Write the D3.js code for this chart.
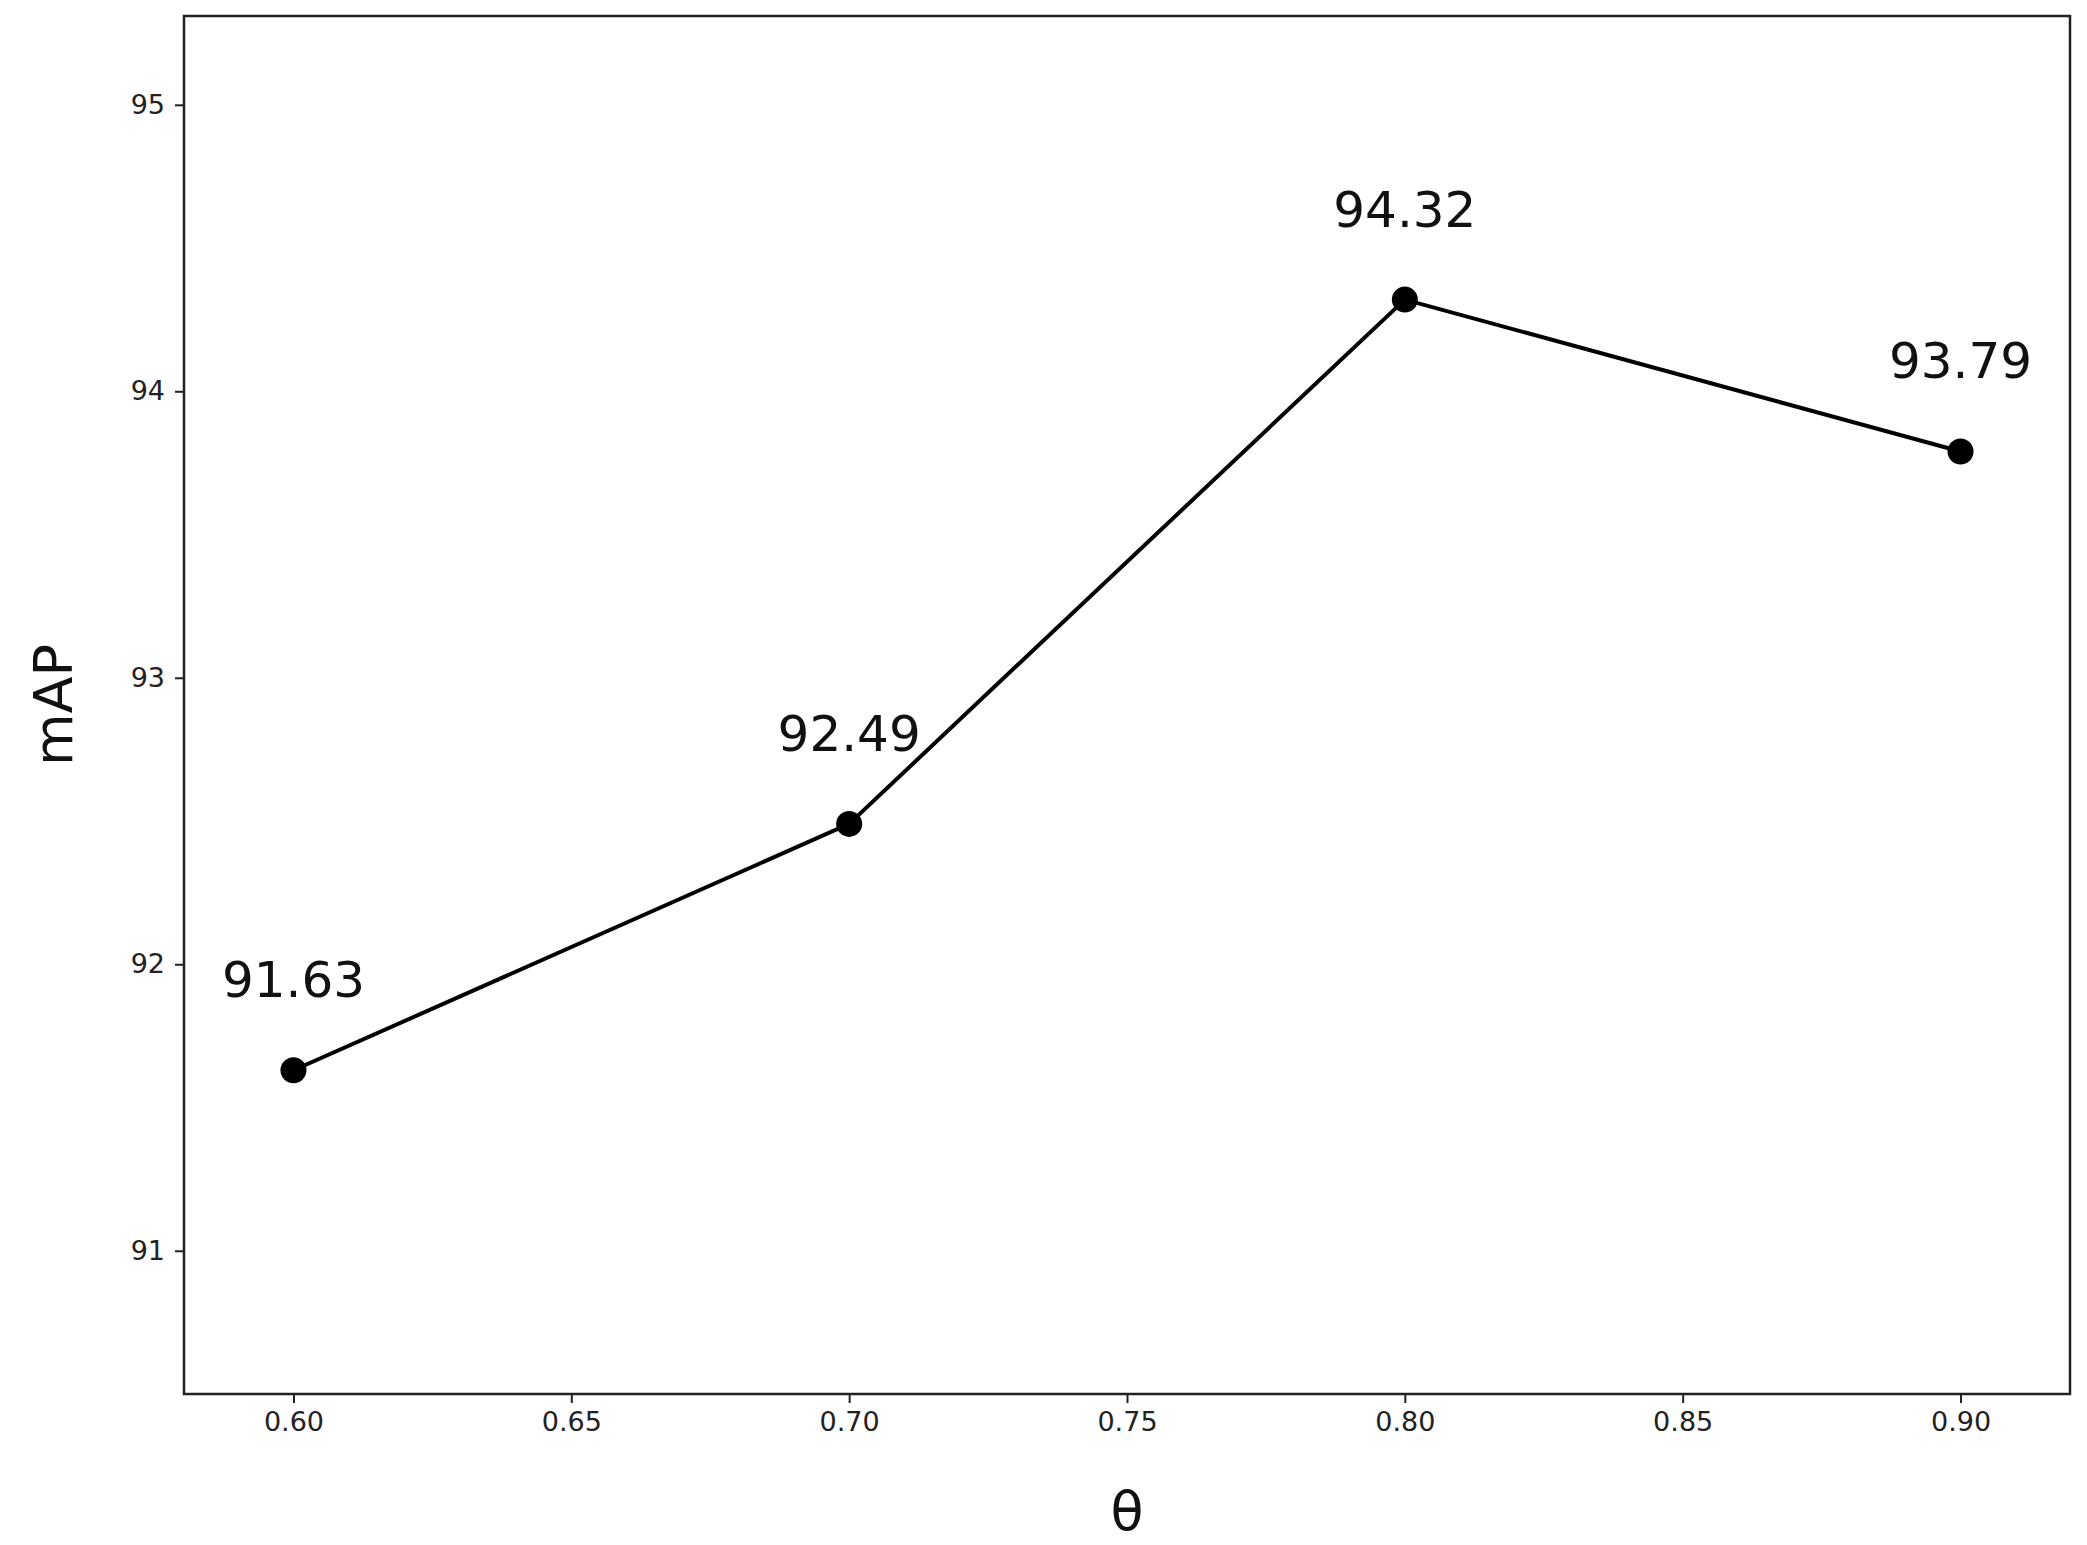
<!DOCTYPE html>
<html><head><meta charset="utf-8">
<script src="https://cdn.jsdelivr.net/npm/d3@7"></script>
<style>body{margin:0;background:#fff}</style>
</head><body>
<svg id="c" width="2087" height="1545"></svg>
<script>
const thetas = [0.60, 0.70, 0.80, 0.90];
const mapValues = [91.63, 92.49, 94.32, 93.79];
const xTicks = [0.60, 0.65, 0.70, 0.75, 0.80, 0.85, 0.90];
const yTicks = [91, 92, 93, 94, 95];

const svg = d3.select("#c");
const L = 184, R = 2070, T = 16, B = 1394;
const x = d3.scaleLinear().domain([0.5803, 0.9197]).range([L, R]);
const y = d3.scaleLinear().domain([90.50, 95.31]).range([B, T]);
const font = "DejaVu Sans, sans-serif";

const xa = svg.append("g").attr("transform", `translate(0,${B})`)
  .call(d3.axisBottom(x).tickValues(xTicks).tickFormat(d3.format(".2f")).tickSize(9).tickPadding(9));
const ya = svg.append("g").attr("transform", `translate(${L},0)`)
  .call(d3.axisLeft(y).tickValues(yTicks).tickFormat(d3.format("d")).tickSize(9).tickPadding(10));
[xa, ya].forEach(a => {
  a.selectAll("text").attr("font-family", font).attr("font-size", 27).attr("fill", "#222");
  a.selectAll("line").attr("stroke", "#222").attr("stroke-width", 2);
  a.select(".domain").remove();
});
svg.append("rect").attr("x", L).attr("y", T).attr("width", R - L).attr("height", B - T)
  .attr("fill", "none").attr("stroke", "#222").attr("stroke-width", 2.5);

const pts = thetas.map((t, i) => [t, mapValues[i]]);
svg.append("path").datum(pts)
  .attr("d", d3.line().x(d => x(d[0])).y(d => y(d[1])))
  .attr("fill", "none").attr("stroke", "#000").attr("stroke-width", 4);
svg.selectAll("circle.p").data(pts).enter().append("circle")
  .attr("cx", d => x(d[0])).attr("cy", d => y(d[1])).attr("r", 13).attr("fill", "#000");
svg.selectAll("text.lab").data(pts).enter().append("text")
  .attr("x", d => x(d[0])).attr("y", d => y(d[1]) - 73)
  .attr("text-anchor", "middle").attr("font-family", font).attr("font-size", 50).attr("fill", "#111")
  .text(d => d[1].toFixed(2));

svg.append("text").attr("x", (L + R) / 2).attr("y", 1530).attr("text-anchor", "middle")
  .attr("font-family", font).attr("font-size", 54).attr("fill", "#111").text("θ");
svg.append("text").attr("transform", `translate(72,${(T + B) / 2}) rotate(-90)`).attr("text-anchor", "middle")
  .attr("font-family", font).attr("font-size", 54).attr("fill", "#111").text("mAP");
</script>
</body></html>
